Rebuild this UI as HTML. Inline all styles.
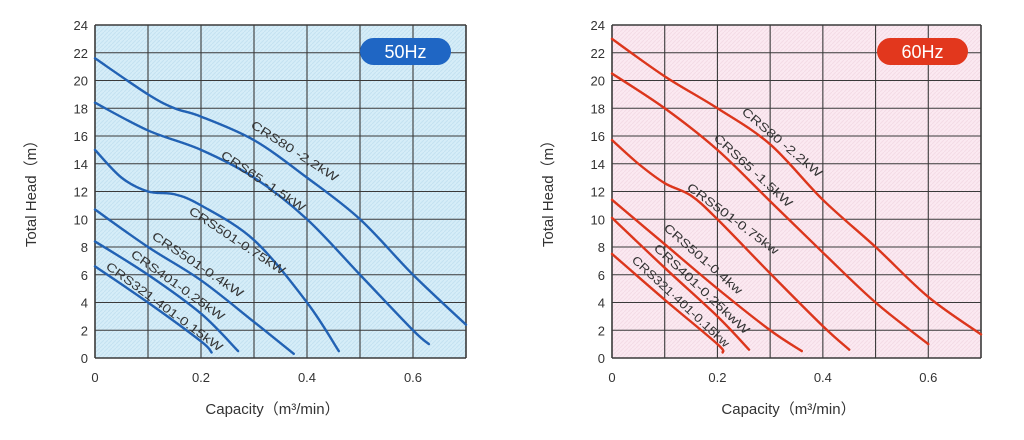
<!DOCTYPE html>
<html><head><meta charset="utf-8"><style>
html,body{margin:0;padding:0;background:#fff;width:1024px;height:440px;overflow:hidden}
svg text{font-family:"Liberation Sans","Noto Sans CJK JP",sans-serif}
</style></head><body>
<svg id="s" width="1024" height="440" xmlns="http://www.w3.org/2000/svg">
<defs>
<pattern id="hb" width="4" height="4" patternUnits="userSpaceOnUse"><rect width="4" height="4" fill="#d6edf8"/><path d="M0 4L4 0" stroke="#c4e2f1" stroke-width="1"/></pattern>
<pattern id="hp" width="4" height="4" patternUnits="userSpaceOnUse"><rect width="4" height="4" fill="#fbe9f1"/><path d="M0 4L4 0" stroke="#f3dbe6" stroke-width="1"/></pattern>
</defs>
</svg>
<script>
var NS="http://www.w3.org/2000/svg",S=document.getElementById("s");
function el(t,a,txt){var e=document.createElementNS(NS,t);for(var k in a)e.setAttribute(k,a[k]);if(txt!==undefined)e.textContent=txt;S.appendChild(e);return e;}
function chart(L,R,fill,col,bcol,badge,curves,labels){
 var T=25,B=358,W=R-L,H=B-T;
 function X(v){return L+v/0.7*W} function Y(v){return B-v/24*H}
 el("rect",{x:L,y:T,width:W,height:H,fill:fill});
 for(var i=0;i<=7;i++){var x=X(i*0.1);el("line",{x1:x,y1:T,x2:x,y2:B,stroke:"#3a3a3a","stroke-width":(i==0||i==7)?1.6:1.1});}
 for(var j=0;j<=12;j++){var y=Y(j*2);el("line",{x1:L,y1:y,x2:R,y2:y,stroke:"#3a3a3a","stroke-width":(j==0||j==12)?1.6:1.1});
  el("text",{x:L-7,y:y+5,"text-anchor":"end","font-size":"13",fill:"#333"},String(j*2));}
 ["0","0.2","0.4","0.6"].forEach(function(t,i){el("text",{x:X(i*0.2),y:382,"text-anchor":"middle","font-size":"13",fill:"#333"},t);});
 el("text",{x:L+(W/2)-8,y:414,"text-anchor":"middle","font-size":"15",fill:"#333"},"Capacity（m³/min）");
 var tx=L-59,ty=190;el("text",{x:tx,y:ty,"text-anchor":"middle","font-size":"15",fill:"#333",transform:"rotate(-90 "+tx+" "+ty+")"},"Total Head（m）");
 var bx=L+(badge[0]),by=38;
 el("rect",{x:bx,y:by,width:91,height:27,rx:13.5,fill:bcol});
 el("text",{x:bx+45.5,y:by+20,"text-anchor":"middle","font-size":"18",fill:"#fff"},badge[1]);
 curves.forEach(function(c){
  var p=c.map(function(q){return [X(q[0]),Y(q[1])]});
  var d="M"+p[0][0]+" "+p[0][1];
  for(var i=0;i<p.length-1;i++){var p0=p[i-1]||p[i],p1=p[i],p2=p[i+1],p3=p[i+2]||p2;
   d+=" C"+(p1[0]+(p2[0]-p0[0])/6)+" "+(p1[1]+(p2[1]-p0[1])/6)+" "+(p2[0]-(p3[0]-p1[0])/6)+" "+(p2[1]-(p3[1]-p1[1])/6)+" "+p2[0]+" "+p2[1];}
  el("path",{d:d,fill:"none",stroke:col,"stroke-width":2.4,"stroke-linecap":"round"});
 });
 labels.forEach(function(l){var a=Math.atan2(l[4]-l[2],l[3]-l[1])*180/Math.PI;
  var len=Math.hypot(l[4]-l[2],l[3]-l[1]);
  el("text",{x:l[1],y:l[2],"font-size":"12",fill:"#333",textLength:len,lengthAdjust:"spacingAndGlyphs",transform:"rotate("+a+" "+l[1]+" "+l[2]+")"},l[0]);});
}
chart(95,466,"url(#hb)","#2262b4","#1f66c4",[265,"50Hz"],[
 [[0,21.6],[0.1,19],[0.15,18],[0.2,17.4],[0.3,15.7],[0.4,13],[0.5,10],[0.6,6],[0.7,2.4]],
 [[0,18.4],[0.1,16.4],[0.2,15],[0.3,13],[0.4,10],[0.5,6],[0.6,2],[0.63,1]],
 [[0,15],[0.05,13],[0.1,12],[0.15,11.8],[0.2,11],[0.3,8.5],[0.4,4],[0.46,0.5]],
 [[0,10.7],[0.1,8],[0.2,5.6],[0.3,2.6],[0.375,0.3]],
 [[0,8.4],[0.1,6],[0.2,3.2],[0.27,0.5]],
 [[0,6.6],[0.1,4],[0.2,1.2],[0.22,0.4]]
],[
 ["CRS80 -2,2kW",250,127,335,182],
 ["CRS65 -1,5kW",220,157,302,212],
 ["CRS501-0.75kW",188,213,282,275],
 ["CRS501-0.4kW",151,238,240,298],
 ["CRS401-0.25kW",130,256,221,321],
 ["CRS321·401-0.15kW",105,268,219,352]
]);
chart(612,981,"url(#hp)","#dc361c","#e2371d",[265,"60Hz"],[
 [[0,23],[0.1,20.3],[0.2,18],[0.3,15.4],[0.4,11.4],[0.5,8],[0.6,4.4],[0.7,1.7]],
 [[0,20.5],[0.1,18],[0.2,15],[0.3,11.3],[0.4,7.6],[0.5,4],[0.6,1]],
 [[0,15.7],[0.05,14],[0.1,12.6],[0.15,11.7],[0.2,10],[0.3,6.1],[0.4,2.3],[0.45,0.6]],
 [[0,11.4],[0.1,8.2],[0.2,5],[0.3,2],[0.36,0.5]],
 [[0,10.1],[0.1,6.5],[0.2,3],[0.26,0.6]],
 [[0,7.5],[0.1,4.2],[0.2,1],[0.21,0.4]]
],[
 ["CRS80 -2.2kW",741,113,818,178],
 ["CRS65 -1.5kW",713,139,788,208],
 ["CRS501-0.75kw",686,189,775,255],
 ["CRS501-0.4kw",663,229,738,295],
 ["CRS401-0.25kwW",653,249,745,335],
 ["CRS321·401-0.15kw",631,261,725,348]
]);
</script>
</body></html>
